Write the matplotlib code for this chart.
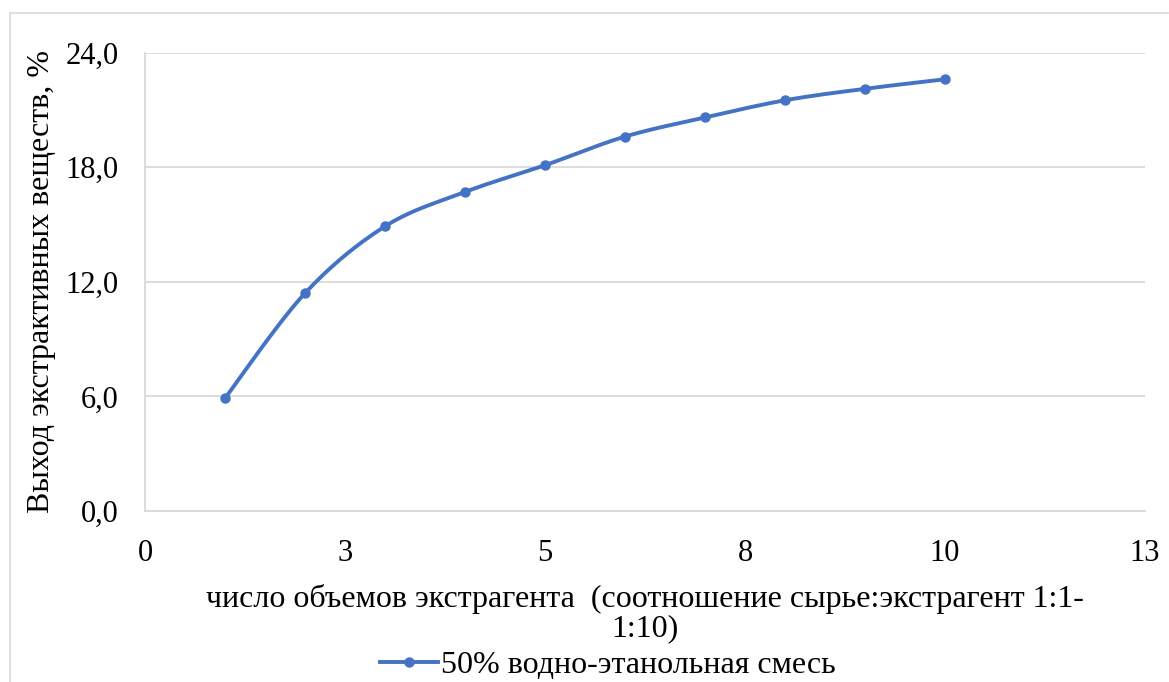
import numpy as np
import matplotlib.pyplot as plt
from matplotlib.lines import Line2D

# ------------------------
# Data
# ------------------------
volumes = [1, 2, 3, 4, 5, 6, 7, 8, 9, 10]
yield_pct = [5.9, 11.4, 14.9, 16.7, 18.1, 19.6, 20.6, 21.5, 22.1, 22.6]

x_ticks = [0, 2.5, 5, 7.5, 10, 12.5]
x_tick_labels = ["0", "3", "5", "8", "10", "13"]
y_ticks = [0, 6, 12, 18, 24]
y_tick_labels = ["0,0", "6,0", "12,0", "18,0", "24,0"]

series_name = "50% водно-этанольная смесь"
x_title = "число объемов экстрагента  (соотношение сырье:экстрагент 1:1-\n1:10)"
y_title = "Выход экстрактивных веществ, %"

BLUE = "#4472C4"
GRID = "#D9D9D9"

plt.rcParams["font.family"] = ["Liberation Serif", "DejaVu Serif"]


# Smoothed line like Excel's "smoothed line" option (Catmull-Rom through the points)
def smooth_curve(xs, ys, steps=30):
    pts = np.column_stack([xs, ys]).astype(float)
    pts = np.vstack([pts[0], pts, pts[-1]])
    out = []
    for i in range(1, len(pts) - 2):
        p0, p1, p2, p3 = pts[i - 1], pts[i], pts[i + 1], pts[i + 2]
        for t in np.linspace(0, 1, steps, endpoint=False):
            t2, t3 = t * t, t * t * t
            out.append(0.5 * ((2 * p1) + (-p0 + p2) * t
                              + (2 * p0 - 5 * p1 + 4 * p2 - p3) * t2
                              + (-p0 + 3 * p1 - 3 * p2 + p3) * t3))
    out.append(pts[-2])
    out = np.array(out)
    return out[:, 0], out[:, 1]


fig = plt.figure(figsize=(11.69, 6.82), dpi=100)
ax = fig.add_axes([0.124, 0.2507, 0.8555, 0.6723])

sx, sy = smooth_curve(volumes, yield_pct)
ax.plot(sx, sy, color=BLUE, lw=2.8, solid_capstyle="round", zorder=3)
ax.plot(volumes, yield_pct, "o", color=BLUE, ms=6.5, zorder=4)

ax.set_xlim(0, 12.5)
ax.set_ylim(0, 24)
ax.set_xticks(x_ticks)
ax.set_xticklabels(x_tick_labels)
ax.set_yticks(y_ticks)
ax.set_yticklabels(y_tick_labels)
ax.tick_params(length=0, labelsize=22, colors="black")
ax.tick_params(axis="x", pad=20)
ax.tick_params(axis="y", pad=19)

ax.grid(axis="y", color=GRID, lw=1.3)
ax.set_axisbelow(True)
for side in ["top", "right"]:
    ax.spines[side].set_visible(False)
for side in ["left", "bottom"]:
    ax.spines[side].set_color(GRID)
    ax.spines[side].set_linewidth(1.3)

ax.set_xlabel(x_title, fontsize=23, labelpad=12, linespacing=1.0)
ax.set_ylabel(y_title, fontsize=23, labelpad=7)

handle = Line2D([], [], color=BLUE, lw=2.8, marker="o", ms=6.5)
fig.legend([handle], [series_name], loc="center", bbox_to_anchor=(0.52, 0.024),
           frameon=False, fontsize=23, handlelength=1.8, handletextpad=0.1,
           borderpad=0, borderaxespad=0)

# chart area border (light gray, partly cut off at the bottom)
fig.add_artist(Line2D([0.0086, 0.9992], [0.9805, 0.9805], color=GRID, lw=1.2,
                      transform=fig.transFigure))
fig.add_artist(Line2D([0.0086, 0.0086], [0.0, 0.9805], color=GRID, lw=1.2,
                      transform=fig.transFigure))

fig.savefig("out.png", dpi=100)
